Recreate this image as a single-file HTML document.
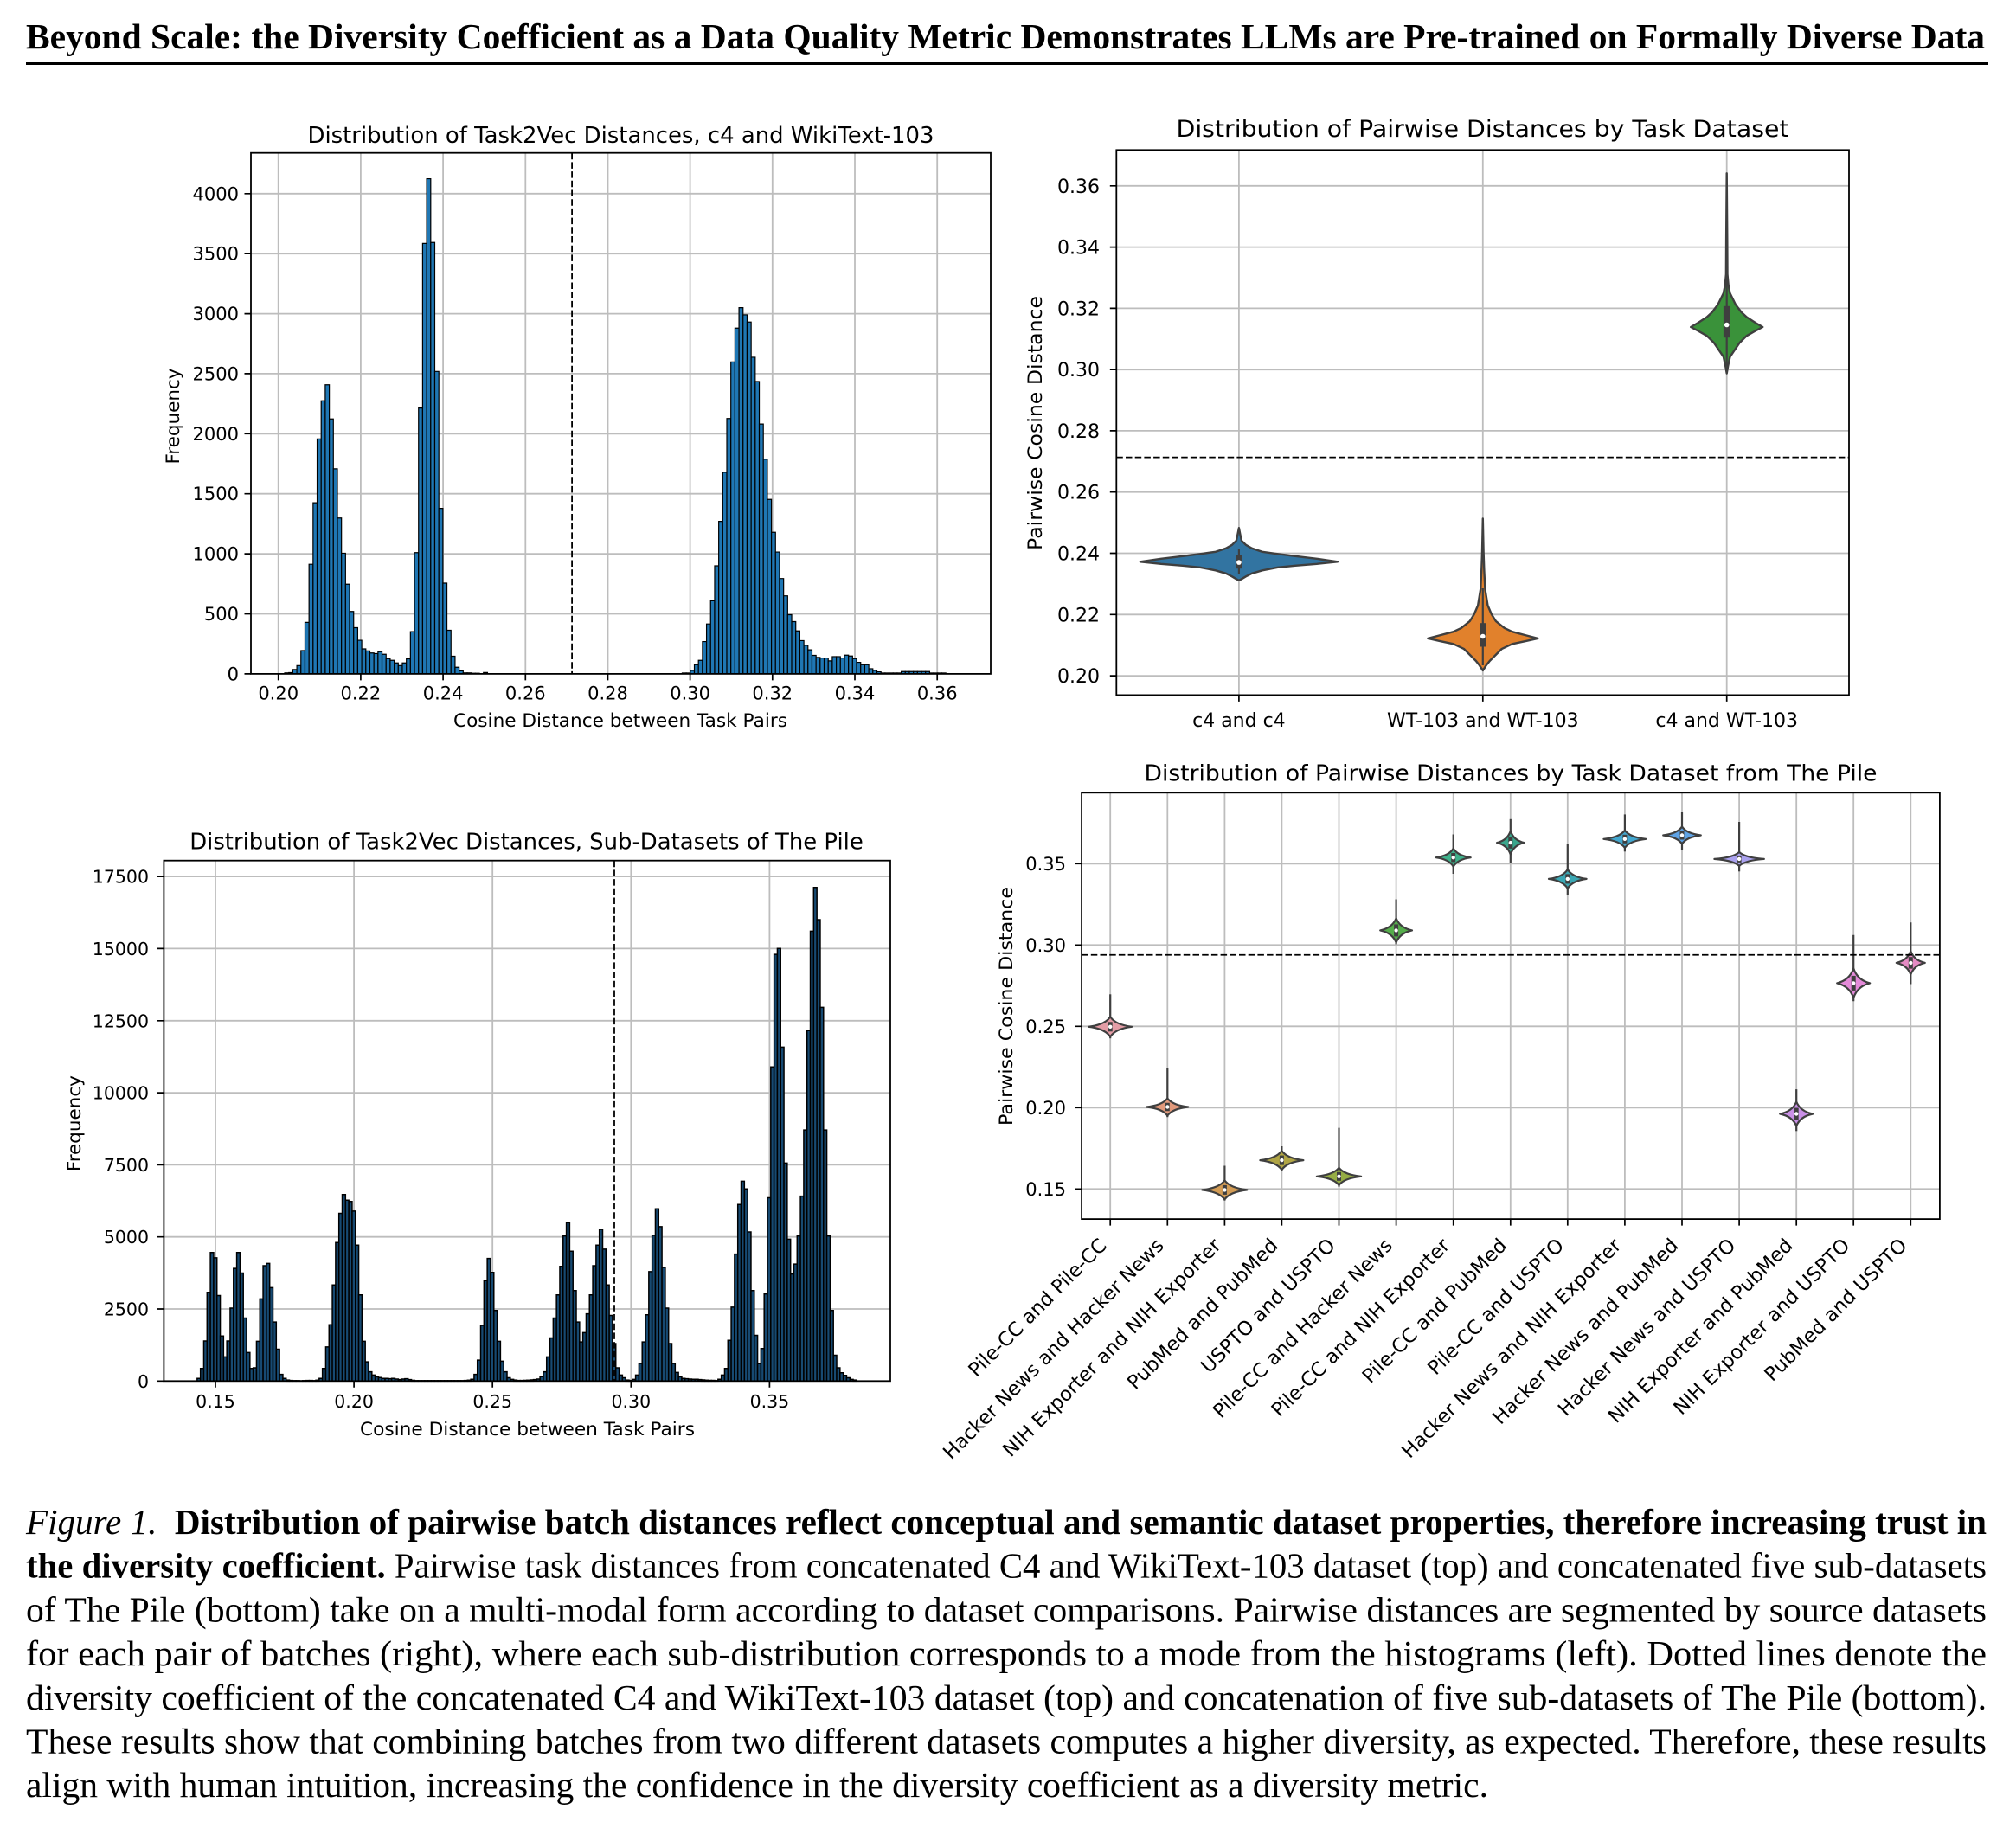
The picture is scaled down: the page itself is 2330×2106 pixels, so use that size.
<!DOCTYPE html>
<html>
<head>
<meta charset="utf-8">
<style>
html,body{margin:0;padding:0;background:#fff}
body{width:2330px;height:2106px;overflow:hidden;position:relative}
svg{position:absolute;left:0;top:0}
svg text{font-family:"DejaVu Sans",sans-serif;fill:#000}
svg text.cap{font-family:"Liberation Serif","Times New Roman",serif;font-size:41.5px}
.gr{stroke:#bdbdbd;stroke-width:1.8;fill:none}
.sp{fill:none;stroke:#000;stroke-width:1.8}
.tk{stroke:#000;stroke-width:1.7;fill:none}
.h rect{fill:#1f77b4;stroke:#000;stroke-width:1.2;vector-effect:non-scaling-stroke}
.h2 rect{fill:#174a72;stroke:#000;stroke-width:1.5;vector-effect:non-scaling-stroke}
.vb{stroke:#3f3f3f;stroke-width:2.2;vector-effect:non-scaling-stroke;stroke-linejoin:round}
.vt{stroke:#3f3f3f;stroke-width:2.2}
.vl{stroke:#3f3f3f;stroke-width:2.4;stroke-linejoin:round}
.ds{stroke:#000;stroke-width:1.8;stroke-dasharray:7.5 3.2;fill:none}
</style>
</head>
<body>
<svg width="2330" height="2106" viewBox="0 0 2330 2106" xmlns="http://www.w3.org/2000/svg">
<!-- Header -->
<text x="30" y="56" style="font-family:'Liberation Serif','Times New Roman',serif;font-weight:bold;font-size:41.5px" textLength="2264" lengthAdjust="spacingAndGlyphs">Beyond Scale: the Diversity Coefficient as a Data Quality Metric Demonstrates LLMs are Pre-trained on Formally Diverse Data</text>
<rect x="30" y="72" width="2268" height="3" fill="#000"/>

<!-- ================= TOP-LEFT HISTOGRAM ================= -->
<path class="gr" d="M321.7 176.7V778.9M416.9 176.7V778.9M512.1 176.7V778.9M607.3 176.7V778.9M702.5 176.7V778.9M797.6 176.7V778.9M892.8 176.7V778.9M988 176.7V778.9M1083.2 176.7V778.9M290 709.5H1145M290 640.1H1145M290 570.7H1145M290 501.3H1145M290 431.9H1145M290 362.6H1145M290 293.2H1145M290 223.8H1145"/>
<g class="h" transform="translate(329.03,778.9) scale(4.688,-0.13878)">
<rect x="0" width="1" height="8"/><rect x="1" width="1" height="10"/><rect x="2" width="1" height="36"/><rect x="3" width="1" height="69"/><rect x="4" width="1" height="194"/><rect x="5" width="1" height="429"/><rect x="6" width="1" height="913"/><rect x="7" width="1" height="1425"/><rect x="8" width="1" height="1957"/><rect x="9" width="1" height="2275"/><rect x="10" width="1" height="2408"/><rect x="11" width="1" height="2123"/><rect x="12" width="1" height="1708"/><rect x="13" width="1" height="1298"/><rect x="14" width="1" height="1005"/><rect x="15" width="1" height="747"/><rect x="16" width="1" height="520"/><rect x="17" width="1" height="385"/><rect x="18" width="1" height="280"/><rect x="19" width="1" height="208"/><rect x="20" width="1" height="191"/><rect x="21" width="1" height="174"/><rect x="22" width="1" height="169"/><rect x="23" width="1" height="185"/><rect x="24" width="1" height="163"/><rect x="25" width="1" height="127"/><rect x="26" width="1" height="113"/><rect x="27" width="1" height="91"/><rect x="28" width="1" height="69"/><rect x="29" width="1" height="91"/><rect x="30" width="1" height="125"/><rect x="31" width="1" height="352"/><rect x="32" width="1" height="1010"/><rect x="33" width="1" height="2214"/><rect x="34" width="1" height="3585"/><rect x="35" width="1" height="4124"/><rect x="36" width="1" height="3593"/><rect x="37" width="1" height="2519"/><rect x="38" width="1" height="1378"/><rect x="39" width="1" height="756"/><rect x="40" width="1" height="363"/><rect x="41" width="1" height="147"/><rect x="42" width="1" height="55"/><rect x="43" width="1" height="25"/><rect x="44" width="1" height="8"/><rect x="45" width="1" height="8"/><rect x="46" width="1" height="5"/><rect x="47" width="1" height="5"/><rect x="49" width="1" height="11"/>
<rect x="98" width="1" height="7"/><rect x="99" width="1" height="7"/><rect x="100" width="1" height="29"/><rect x="101" width="1" height="77"/><rect x="102" width="1" height="113"/><rect x="103" width="1" height="269"/><rect x="104" width="1" height="416"/><rect x="105" width="1" height="609"/><rect x="106" width="1" height="900"/><rect x="107" width="1" height="1270"/><rect x="108" width="1" height="1679"/><rect x="109" width="1" height="2127"/><rect x="110" width="1" height="2598"/><rect x="111" width="1" height="2880"/><rect x="112" width="1" height="3050"/><rect x="113" width="1" height="2990"/><rect x="114" width="1" height="2930"/><rect x="115" width="1" height="2637"/><rect x="116" width="1" height="2435"/><rect x="117" width="1" height="2081"/><rect x="118" width="1" height="1788"/><rect x="119" width="1" height="1453"/><rect x="120" width="1" height="1179"/><rect x="121" width="1" height="1015"/><rect x="122" width="1" height="794"/><rect x="123" width="1" height="650"/><rect x="124" width="1" height="493"/><rect x="125" width="1" height="435"/><rect x="126" width="1" height="358"/><rect x="127" width="1" height="277"/><rect x="128" width="1" height="238"/><rect x="129" width="1" height="200"/><rect x="130" width="1" height="154"/><rect x="131" width="1" height="137"/><rect x="132" width="1" height="132"/><rect x="133" width="1" height="132"/><rect x="134" width="1" height="108"/><rect x="135" width="1" height="144"/><rect x="136" width="1" height="144"/><rect x="137" width="1" height="132"/><rect x="138" width="1" height="156"/><rect x="139" width="1" height="149"/><rect x="140" width="1" height="127"/><rect x="141" width="1" height="96"/><rect x="142" width="1" height="77"/><rect x="143" width="1" height="77"/><rect x="144" width="1" height="43"/><rect x="145" width="1" height="29"/><rect x="146" width="1" height="17"/><rect x="147" width="1" height="7"/><rect x="148" width="1" height="7"/><rect x="149" width="1" height="7"/><rect x="150" width="1" height="7"/><rect x="151" width="1" height="7"/><rect x="152" width="1" height="19"/><rect x="153" width="1" height="19"/><rect x="154" width="1" height="19"/><rect x="155" width="1" height="19"/><rect x="156" width="1" height="19"/><rect x="157" width="1" height="19"/><rect x="158" width="1" height="19"/><rect x="159" width="1" height="7"/><rect x="160" width="1" height="7"/><rect x="161" width="1" height="7"/><rect x="162" width="1" height="7"/>
</g>
<line class="ds" x1="661.1" y1="176.7" x2="661.1" y2="778.9"/>
<rect class="sp" x="290" y="176.7" width="855" height="602.2"/>
<path class="tk" d="M321.7 778.9v7.5M416.9 778.9v7.5M512.1 778.9v7.5M607.3 778.9v7.5M702.5 778.9v7.5M797.6 778.9v7.5M892.8 778.9v7.5M988 778.9v7.5M1083.2 778.9v7.5M282.5 778.9h7.5M282.5 709.5h7.5M282.5 640.1h7.5M282.5 570.7h7.5M282.5 501.3h7.5M282.5 431.9h7.5M282.5 362.6h7.5M282.5 293.2h7.5M282.5 223.8h7.5"/>
<g style="font-size:21px" text-anchor="middle">
<text x="321.7" y="808.6">0.20</text><text x="416.9" y="808.6">0.22</text><text x="512.1" y="808.6">0.24</text><text x="607.3" y="808.6">0.26</text><text x="702.5" y="808.6">0.28</text><text x="797.6" y="808.6">0.30</text><text x="892.8" y="808.6">0.32</text><text x="988" y="808.6">0.34</text><text x="1083.2" y="808.6">0.36</text>
</g>
<g style="font-size:21px" text-anchor="end">
<text x="276" y="786.4">0</text><text x="276" y="717">500</text><text x="276" y="647.6">1000</text><text x="276" y="578.2">1500</text><text x="276" y="508.8">2000</text><text x="276" y="439.4">2500</text><text x="276" y="370.1">3000</text><text x="276" y="300.7">3500</text><text x="276" y="231.3">4000</text>
</g>
<text x="717.5" y="165" text-anchor="middle" style="font-size:26px" textLength="724" lengthAdjust="spacingAndGlyphs">Distribution of Task2Vec Distances, c4 and WikiText-103</text>
<text x="717" y="840" text-anchor="middle" style="font-size:21px" textLength="386" lengthAdjust="spacingAndGlyphs">Cosine Distance between Task Pairs</text>
<text transform="translate(207,481) rotate(-90)" text-anchor="middle" style="font-size:21px" textLength="111" lengthAdjust="spacingAndGlyphs">Frequency</text>

<!-- ================= TOP-RIGHT VIOLIN ================= -->
<path class="gr" d="M1431.9 173.3V803.4M1713.8 173.3V803.4M1995.7 173.3V803.4M1290.3 781.1H2137M1290.3 710.3H2137M1290.3 639.5H2137M1290.3 568.7H2137M1290.3 497.9H2137M1290.3 427.2H2137M1290.3 356.4H2137M1290.3 285.6H2137M1290.3 214.8H2137"/>
<path class="vl" fill="#3274a1" d="M1431.9,610.2 L1433.4,617.8 L1434.9,624.8 L1439.9,629.8 L1446.9,633.8 L1458.9,637.8 L1476.9,640.3 L1496.9,642.8 L1521.9,645.8 L1545.9,649.3 L1521.9,651.8 L1496.9,653.8 L1476.9,655.8 L1458.9,659.3 L1446.9,662.8 L1439.9,666.3 L1434.9,669.3 L1431.9,670.8 L1428.9,669.3 L1423.9,666.3 L1416.9,662.8 L1404.9,659.3 L1386.9,655.8 L1366.9,653.8 L1341.9,651.8 L1317.9,649.3 L1341.9,645.8 L1366.9,642.8 L1386.9,640.3 L1404.9,637.8 L1416.9,633.8 L1423.9,629.8 L1428.9,624.8 L1430.4,617.8 Z"/>
<line class="vt" x1="1431.9" y1="634" x2="1431.9" y2="664"/>
<rect x="1428.1" y="641.3" width="7.6" height="15.9" fill="#3f3f3f"/>
<circle cx="1431.9" cy="650.1" r="2.8" fill="#fff"/>
<path class="vl" fill="#e1812c" d="M1713.8,599.5 L1714.6,637.9 L1715.3,657.9 L1716.4,680.9 L1719.5,699.9 L1723.8,709.9 L1728.8,717.9 L1738.8,725.9 L1747.8,730.2 L1763.8,734.4 L1777.3,737.9 L1763.8,740.9 L1747.8,744.3 L1735.8,749.9 L1728.8,756.9 L1721.8,763.9 L1717.8,768.9 L1713.8,774.9 L1709.8,768.9 L1705.8,763.9 L1698.8,756.9 L1691.8,749.9 L1679.8,744.3 L1663.8,740.9 L1650.3,737.9 L1663.8,734.4 L1679.8,730.2 L1688.8,725.9 L1698.8,717.9 L1703.8,709.9 L1708.1,699.9 L1711.2,680.9 L1712.3,657.9 L1713.0,637.9 Z"/>
<line class="vt" x1="1713.8" y1="680" x2="1713.8" y2="769"/>
<rect x="1710" y="720.2" width="7.6" height="27.3" fill="#3f3f3f"/>
<circle cx="1713.8" cy="735.5" r="2.8" fill="#fff"/>
<path class="vl" fill="#3a923a" d="M1995.7,200.3 L1996.3,278 L1996.5,317 L1997.7,330 L1999.5,339 L2005.9,352 L2012.7,361 L2018.7,366.5 L2028.7,373 L2037.2,378 L2028.7,382.5 L2018.7,388.2 L2010.7,396 L2005.9,403 L1999.5,412.4 L1997.2,423 L1995.7,431.6 L1994.2,423 L1991.9,412.4 L1985.5,403 L1980.7,396 L1972.7,388.2 L1962.7,382.5 L1954.2,378 L1962.7,373 L1972.7,366.5 L1978.7,361 L1985.5,352 L1991.9,339 L1993.7,330 L1994.9,317 L1995.1,278 Z"/>
<line class="vt" x1="1995.7" y1="313.9" x2="1995.7" y2="423.6"/>
<rect x="1991.9" y="353.8" width="7.6" height="36.4" fill="#3f3f3f"/>
<circle cx="1995.7" cy="375.5" r="2.8" fill="#fff"/>
<line class="ds" x1="1290.3" y1="528.6" x2="2137" y2="528.6"/>
<rect class="sp" x="1290.3" y="173.3" width="846.7" height="630.1"/>
<path class="tk" d="M1431.9 803.4v7.5M1713.8 803.4v7.5M1995.7 803.4v7.5M1282.8 781.1h7.5M1282.8 710.3h7.5M1282.8 639.5h7.5M1282.8 568.7h7.5M1282.8 497.9h7.5M1282.8 427.2h7.5M1282.8 356.4h7.5M1282.8 285.6h7.5M1282.8 214.8h7.5"/>
<g style="font-size:22px" text-anchor="end">
<text x="1271" y="789.1">0.20</text><text x="1271" y="718.3">0.22</text><text x="1271" y="647.5">0.24</text><text x="1271" y="576.7">0.26</text><text x="1271" y="505.9">0.28</text><text x="1271" y="435.2">0.30</text><text x="1271" y="364.4">0.32</text><text x="1271" y="293.6">0.34</text><text x="1271" y="222.8">0.36</text>
</g>
<g style="font-size:22px" text-anchor="middle">
<text x="1431.9" y="840">c4 and c4</text><text x="1713.8" y="840">WT-103 and WT-103</text><text x="1995.7" y="840">c4 and WT-103</text>
</g>
<text x="1713.5" y="158" text-anchor="middle" style="font-size:27px" textLength="708" lengthAdjust="spacingAndGlyphs">Distribution of Pairwise Distances by Task Dataset</text>
<text transform="translate(1204,489) rotate(-90)" text-anchor="middle" style="font-size:22px" textLength="294" lengthAdjust="spacingAndGlyphs">Pairwise Cosine Distance</text>

<!-- ================= BOTTOM-LEFT HISTOGRAM ================= -->
<path class="gr" d="M249 994.7V1596.3M409.1 994.7V1596.3M569.2 994.7V1596.3M729.3 994.7V1596.3M889.4 994.7V1596.3M189.4 1513H1029M189.4 1429.7H1029M189.4 1346.4H1029M189.4 1263.1H1029M189.4 1179.8H1029M189.4 1096.4H1029M189.4 1013.1H1029"/>
<g class="h2" transform="translate(227.87,1596.3) scale(3.81,-0.033324)">
<rect x="0" width="1" height="92"/><rect x="1" width="1" height="437"/><rect x="2" width="1" height="1390"/><rect x="3" width="1" height="3079"/><rect x="4" width="1" height="4458"/><rect x="5" width="1" height="4274"/><rect x="6" width="1" height="2964"/><rect x="7" width="1" height="1563"/><rect x="8" width="1" height="839"/><rect x="9" width="1" height="1390"/><rect x="10" width="1" height="2528"/><rect x="11" width="1" height="3907"/><rect x="12" width="1" height="4458"/><rect x="13" width="1" height="3746"/><rect x="14" width="1" height="2183"/><rect x="15" width="1" height="988"/><rect x="16" width="1" height="437"/><rect x="17" width="1" height="460"/><rect x="18" width="1" height="1379"/><rect x="19" width="1" height="2850"/><rect x="20" width="1" height="3999"/><rect x="21" width="1" height="4079"/><rect x="22" width="1" height="3240"/><rect x="23" width="1" height="2045"/><rect x="24" width="1" height="1103"/><rect x="25" width="1" height="230"/><rect x="26" width="1" height="92"/><rect x="27" width="1" height="34"/><rect x="28" width="1" height="20"/><rect x="29" width="1" height="15"/><rect x="30" width="1" height="15"/><rect x="31" width="1" height="10"/><rect x="32" width="1" height="15"/><rect x="33" width="1" height="20"/><rect x="34" width="1" height="20"/><rect x="35" width="1" height="15"/><rect x="36" width="1" height="30"/><rect x="37" width="1" height="92"/><rect x="38" width="1" height="437"/><rect x="39" width="1" height="1183"/><rect x="40" width="1" height="1953"/><rect x="41" width="1" height="3332"/><rect x="42" width="1" height="4803"/><rect x="43" width="1" height="5814"/><rect x="44" width="1" height="6469"/><rect x="45" width="1" height="6274"/><rect x="46" width="1" height="6228"/><rect x="47" width="1" height="5894"/><rect x="48" width="1" height="4711"/><rect x="49" width="1" height="2987"/><rect x="50" width="1" height="1379"/><rect x="51" width="1" height="666"/><rect x="52" width="1" height="322"/><rect x="53" width="1" height="207"/><rect x="54" width="1" height="149"/><rect x="55" width="1" height="120"/><rect x="56" width="1" height="90"/><rect x="57" width="1" height="92"/><rect x="58" width="1" height="80"/><rect x="59" width="1" height="92"/><rect x="60" width="1" height="69"/><rect x="61" width="1" height="50"/><rect x="62" width="1" height="69"/><rect x="63" width="1" height="80"/><rect x="64" width="1" height="50"/><rect x="65" width="1" height="25"/><rect x="66" width="1" height="15"/><rect x="67" width="1" height="15"/><rect x="68" width="1" height="15"/><rect x="69" width="1" height="15"/><rect x="70" width="1" height="15"/><rect x="71" width="1" height="15"/><rect x="72" width="1" height="15"/><rect x="73" width="1" height="15"/><rect x="74" width="1" height="15"/><rect x="75" width="1" height="15"/><rect x="76" width="1" height="15"/><rect x="77" width="1" height="15"/><rect x="78" width="1" height="15"/><rect x="79" width="1" height="15"/><rect x="80" width="1" height="15"/><rect x="81" width="1" height="20"/><rect x="82" width="1" height="30"/><rect x="83" width="1" height="60"/><rect x="84" width="1" height="230"/><rect x="85" width="1" height="724"/><rect x="86" width="1" height="1930"/><rect x="87" width="1" height="3481"/><rect x="88" width="1" height="4251"/><rect x="89" width="1" height="3769"/><rect x="90" width="1" height="2447"/><rect x="91" width="1" height="1379"/><rect x="92" width="1" height="689"/><rect x="93" width="1" height="322"/><rect x="94" width="1" height="115"/><rect x="95" width="1" height="57"/><rect x="96" width="1" height="34"/><rect x="97" width="1" height="20"/><rect x="98" width="1" height="20"/><rect x="99" width="1" height="25"/><rect x="100" width="1" height="30"/><rect x="101" width="1" height="40"/><rect x="102" width="1" height="50"/><rect x="103" width="1" height="69"/><rect x="104" width="1" height="150"/><rect x="105" width="1" height="322"/><rect x="106" width="1" height="839"/><rect x="107" width="1" height="1494"/><rect x="108" width="1" height="2183"/><rect x="109" width="1" height="2987"/><rect x="110" width="1" height="3976"/><rect x="111" width="1" height="5033"/><rect x="112" width="1" height="5492"/><rect x="113" width="1" height="4504"/><rect x="114" width="1" height="3137"/><rect x="115" width="1" height="2045"/><rect x="116" width="1" height="1356"/><rect x="117" width="1" height="1678"/><rect x="118" width="1" height="2332"/><rect x="119" width="1" height="2987"/><rect x="120" width="1" height="3999"/><rect x="121" width="1" height="4711"/><rect x="122" width="1" height="5262"/><rect x="123" width="1" height="4573"/><rect x="124" width="1" height="3332"/><rect x="125" width="1" height="2275"/><rect x="126" width="1" height="1298"/><rect x="127" width="1" height="460"/><rect x="128" width="1" height="207"/><rect x="129" width="1" height="115"/><rect x="130" width="1" height="34"/><rect x="131" width="1" height="20"/><rect x="132" width="1" height="57"/><rect x="133" width="1" height="207"/><rect x="134" width="1" height="609"/><rect x="135" width="1" height="1356"/><rect x="136" width="1" height="2298"/><rect x="137" width="1" height="3792"/><rect x="138" width="1" height="5056"/><rect x="139" width="1" height="5975"/><rect x="140" width="1" height="5354"/><rect x="141" width="1" height="3941"/><rect x="142" width="1" height="2528"/><rect x="143" width="1" height="1298"/><rect x="144" width="1" height="609"/><rect x="145" width="1" height="299"/><rect x="146" width="1" height="149"/><rect x="147" width="1" height="92"/><rect x="148" width="1" height="80"/><rect x="149" width="1" height="70"/><rect x="150" width="1" height="60"/><rect x="151" width="1" height="60"/><rect x="152" width="1" height="50"/><rect x="153" width="1" height="40"/><rect x="154" width="1" height="30"/><rect x="155" width="1" height="23"/><rect x="156" width="1" height="23"/><rect x="157" width="1" height="15"/><rect x="158" width="1" height="60"/><rect x="159" width="1" height="207"/><rect x="160" width="1" height="437"/><rect x="161" width="1" height="1413"/><rect x="162" width="1" height="2562"/><rect x="163" width="1" height="4401"/><rect x="164" width="1" height="6124"/><rect x="165" width="1" height="6928"/><rect x="166" width="1" height="6664"/><rect x="167" width="1" height="5171"/><rect x="168" width="1" height="3137"/><rect x="169" width="1" height="1586"/><rect x="170" width="1" height="600"/><rect x="171" width="1" height="1126"/><rect x="172" width="1" height="3022"/><rect x="173" width="1" height="6354"/><rect x="174" width="1" height="10893"/><rect x="175" width="1" height="14799"/><rect x="176" width="1" height="15006"/><rect x="177" width="1" height="11582"/><rect x="178" width="1" height="7560"/><rect x="179" width="1" height="4918"/><rect x="180" width="1" height="3711"/><rect x="181" width="1" height="4056"/><rect x="182" width="1" height="5033"/><rect x="183" width="1" height="6411"/><rect x="184" width="1" height="8709"/><rect x="185" width="1" height="12156"/><rect x="186" width="1" height="15603"/><rect x="187" width="1" height="17120"/><rect x="188" width="1" height="16005"/><rect x="189" width="1" height="12961"/><rect x="190" width="1" height="8709"/><rect x="191" width="1" height="5033"/><rect x="192" width="1" height="2447"/><rect x="193" width="1" height="896"/><rect x="194" width="1" height="460"/><rect x="195" width="1" height="287"/><rect x="196" width="1" height="195"/><rect x="197" width="1" height="115"/><rect x="198" width="1" height="57"/><rect x="199" width="1" height="34"/>
</g>
<line class="ds" x1="710" y1="994.7" x2="710" y2="1596.3"/>
<rect class="sp" x="189.4" y="994.7" width="839.6" height="601.6"/>
<path class="tk" d="M249 1596.3v7.5M409.1 1596.3v7.5M569.2 1596.3v7.5M729.3 1596.3v7.5M889.4 1596.3v7.5M181.9 1596.3h7.5M181.9 1513h7.5M181.9 1429.7h7.5M181.9 1346.4h7.5M181.9 1263.1h7.5M181.9 1179.8h7.5M181.9 1096.4h7.5M181.9 1013.1h7.5"/>
<g style="font-size:20.5px" text-anchor="middle">
<text x="249" y="1627">0.15</text><text x="409.1" y="1627">0.20</text><text x="569.2" y="1627">0.25</text><text x="729.3" y="1627">0.30</text><text x="889.4" y="1627">0.35</text>
</g>
<g style="font-size:20.5px" text-anchor="end">
<text x="172" y="1603.8">0</text><text x="172" y="1520.5">2500</text><text x="172" y="1437.2">5000</text><text x="172" y="1353.9">7500</text><text x="172" y="1270.6">10000</text><text x="172" y="1187.3">12500</text><text x="172" y="1103.9">15000</text><text x="172" y="1020.6">17500</text>
</g>
<text x="608.5" y="981.5" text-anchor="middle" style="font-size:26px" textLength="778.6" lengthAdjust="spacingAndGlyphs">Distribution of Task2Vec Distances, Sub-Datasets of The Pile</text>
<text x="609.5" y="1659" text-anchor="middle" style="font-size:21px" textLength="387" lengthAdjust="spacingAndGlyphs">Cosine Distance between Task Pairs</text>
<text transform="translate(93,1298.6) rotate(-90)" text-anchor="middle" style="font-size:21px" textLength="111" lengthAdjust="spacingAndGlyphs">Frequency</text>

<!-- ================= BOTTOM-RIGHT VIOLINS ================= -->
<path class="gr" d="M1283.2 916.3V1409.1M1349.3 916.3V1409.1M1415.4 916.3V1409.1M1481.4 916.3V1409.1M1547.5 916.3V1409.1M1613.6 916.3V1409.1M1679.7 916.3V1409.1M1745.8 916.3V1409.1M1811.8 916.3V1409.1M1877.9 916.3V1409.1M1944 916.3V1409.1M2010.1 916.3V1409.1M2076.2 916.3V1409.1M2142.2 916.3V1409.1M2208.3 916.3V1409.1M1250.1 1374.3H2241.9M1250.1 1280.3H2241.9M1250.1 1186.3H2241.9M1250.1 1092.3H2241.9M1250.1 998.3H2241.9"/>
<g>
<line class="vt" x1="1283.2" y1="1149.3" x2="1283.2" y2="1200.2"/>
<path class="vb" fill="#e49da6" transform="translate(1283.2,1186.8) scale(25,11.5)" d="M0,-1C.15,-.5 .45,-.15 1,0C.45,.15 .15,.5 0,1C-.15,.5 -.45,.15 -1,0C-.45,-.15 -.15,-.5 0,-1Z"/>
<rect x="1280.7" y="1181.3" width="5" height="11" fill="#3f3f3f"/><circle cx="1283.2" cy="1186.8" r="2.2" fill="#fff"/>

<line class="vt" x1="1349.3" y1="1235" x2="1349.3" y2="1291.2"/>
<path class="vb" fill="#e29a7c" transform="translate(1349.3,1279.5) scale(24,10)" d="M0,-1C.15,-.5 .45,-.15 1,0C.45,.15 .15,.5 0,1C-.15,.5 -.45,.15 -1,0C-.45,-.15 -.15,-.5 0,-1Z"/>
<rect x="1346.8" y="1274.75" width="5" height="9.5" fill="#3f3f3f"/><circle cx="1349.3" cy="1279.5" r="2.2" fill="#fff"/>

<line class="vt" x1="1415.4" y1="1347.5" x2="1415.4" y2="1387.7"/>
<path class="vb" fill="#d39c55" transform="translate(1415.4,1375.4) scale(26,11)" d="M0,-1C.15,-.5 .45,-.15 1,0C.45,.15 .15,.5 0,1C-.15,.5 -.45,.15 -1,0C-.45,-.15 -.15,-.5 0,-1Z"/>
<rect x="1412.9" y="1369.9" width="5" height="11" fill="#3f3f3f"/><circle cx="1415.4" cy="1375.4" r="2.2" fill="#fff"/>

<line class="vt" x1="1481.4" y1="1325" x2="1481.4" y2="1352.9"/>
<path class="vb" fill="#b0a545" transform="translate(1481.4,1341.1) scale(25,11)" d="M0,-1C.15,-.5 .45,-.15 1,0C.45,.15 .15,.5 0,1C-.15,.5 -.45,.15 -1,0C-.45,-.15 -.15,-.5 0,-1Z"/>
<rect x="1478.9" y="1335.6" width="5" height="11" fill="#3f3f3f"/><circle cx="1481.4" cy="1341.1" r="2.2" fill="#fff"/>

<line class="vt" x1="1547.5" y1="1303.6" x2="1547.5" y2="1371.6"/>
<path class="vb" fill="#96ad45" transform="translate(1547.5,1359.8) scale(25.6,10)" d="M0,-1C.15,-.5 .45,-.15 1,0C.45,.15 .15,.5 0,1C-.15,.5 -.45,.15 -1,0C-.45,-.15 -.15,-.5 0,-1Z"/>
<rect x="1545" y="1354.8" width="5" height="10" fill="#3f3f3f"/><circle cx="1547.5" cy="1359.8" r="2.2" fill="#fff"/>

<line class="vt" x1="1613.6" y1="1039.5" x2="1613.6" y2="1091.4"/>
<path class="vb" fill="#55ad4b" transform="translate(1613.6,1075.4) scale(18.4,14)" d="M0,-1C.15,-.5 .45,-.15 1,0C.45,.15 .15,.5 0,1C-.15,.5 -.45,.15 -1,0C-.45,-.15 -.15,-.5 0,-1Z"/>
<rect x="1611.1" y="1068.4" width="5" height="14" fill="#3f3f3f"/><circle cx="1613.6" cy="1075.4" r="2.2" fill="#fff"/>

<line class="vt" x1="1679.7" y1="964.5" x2="1679.7" y2="1010"/>
<path class="vb" fill="#3db18a" transform="translate(1679.7,991.2) scale(20,10.5)" d="M0,-1C.15,-.5 .45,-.15 1,0C.45,.15 .15,.5 0,1C-.15,.5 -.45,.15 -1,0C-.45,-.15 -.15,-.5 0,-1Z"/>
<rect x="1677.2" y="985.95" width="5" height="10.5" fill="#3f3f3f"/><circle cx="1679.7" cy="991.2" r="2.2" fill="#fff"/>

<line class="vt" x1="1745.8" y1="946.8" x2="1745.8" y2="997.7"/>
<path class="vb" fill="#3aa68c" transform="translate(1745.8,974.1) scale(15.7,13.5)" d="M0,-1C.15,-.5 .45,-.15 1,0C.45,.15 .15,.5 0,1C-.15,.5 -.45,.15 -1,0C-.45,-.15 -.15,-.5 0,-1Z"/>
<rect x="1743.3" y="967.35" width="5" height="13.5" fill="#3f3f3f"/><circle cx="1745.8" cy="974.1" r="2.2" fill="#fff"/>

<line class="vt" x1="1811.8" y1="975.2" x2="1811.8" y2="1034.1"/>
<path class="vb" fill="#3ba7b3" transform="translate(1811.8,1015.9) scale(21.8,11)" d="M0,-1C.15,-.5 .45,-.15 1,0C.45,.15 .15,.5 0,1C-.15,.5 -.45,.15 -1,0C-.45,-.15 -.15,-.5 0,-1Z"/>
<rect x="1809.3" y="1010.4" width="5" height="11" fill="#3f3f3f"/><circle cx="1811.8" cy="1015.9" r="2.2" fill="#fff"/>

<line class="vt" x1="1877.9" y1="941.4" x2="1877.9" y2="984.3"/>
<path class="vb" fill="#42a7cf" transform="translate(1877.9,969.8) scale(24.5,10)" d="M0,-1C.15,-.5 .45,-.15 1,0C.45,.15 .15,.5 0,1C-.15,.5 -.45,.15 -1,0C-.45,-.15 -.15,-.5 0,-1Z"/>
<rect x="1875.4" y="964.8" width="5" height="10" fill="#3f3f3f"/><circle cx="1877.9" cy="969.8" r="2.2" fill="#fff"/>

<line class="vt" x1="1944" y1="938.75" x2="1944" y2="982.1"/>
<path class="vb" fill="#5ea3e6" transform="translate(1944,965.5) scale(21.8,10)" d="M0,-1C.15,-.5 .45,-.15 1,0C.45,.15 .15,.5 0,1C-.15,.5 -.45,.15 -1,0C-.45,-.15 -.15,-.5 0,-1Z"/>
<rect x="1941.5" y="960.5" width="5" height="10" fill="#3f3f3f"/><circle cx="1944" cy="965.5" r="2.2" fill="#fff"/>

<line class="vt" x1="2010.1" y1="950" x2="2010.1" y2="1007.3"/>
<path class="vb" fill="#aaa1ee" transform="translate(2010.1,992.9) scale(28.7,8)" d="M0,-1C.15,-.5 .45,-.15 1,0C.45,.15 .15,.5 0,1C-.15,.5 -.45,.15 -1,0C-.45,-.15 -.15,-.5 0,-1Z"/>
<rect x="2007.6" y="988.9" width="5" height="8" fill="#3f3f3f"/><circle cx="2010.1" cy="992.9" r="2.2" fill="#fff"/>

<line class="vt" x1="2076.2" y1="1259.1" x2="2076.2" y2="1307.3"/>
<path class="vb" fill="#c98fe6" transform="translate(2076.2,1287.5) scale(19,14)" d="M0,-1C.15,-.5 .45,-.15 1,0C.45,.15 .15,.5 0,1C-.15,.5 -.45,.15 -1,0C-.45,-.15 -.15,-.5 0,-1Z"/>
<rect x="2073.7" y="1280.5" width="5" height="14" fill="#3f3f3f"/><circle cx="2076.2" cy="1287.5" r="2.2" fill="#fff"/>

<line class="vt" x1="2142.2" y1="1080.7" x2="2142.2" y2="1157.3"/>
<path class="vb" fill="#e48ad9" transform="translate(2142.2,1136.4) scale(19,17)" d="M0,-1C.15,-.5 .45,-.15 1,0C.45,.15 .15,.5 0,1C-.15,.5 -.45,.15 -1,0C-.45,-.15 -.15,-.5 0,-1Z"/>
<rect x="2139.7" y="1127.9" width="5" height="17" fill="#3f3f3f"/><circle cx="2142.2" cy="1136.4" r="2.2" fill="#fff"/>

<line class="vt" x1="2208.3" y1="1066.25" x2="2208.3" y2="1137.5"/>
<path class="vb" fill="#e58ac3" transform="translate(2208.3,1112.9) scale(16.5,13.5)" d="M0,-1C.15,-.5 .45,-.15 1,0C.45,.15 .15,.5 0,1C-.15,.5 -.45,.15 -1,0C-.45,-.15 -.15,-.5 0,-1Z"/>
<rect x="2205.8" y="1106.15" width="5" height="13.5" fill="#3f3f3f"/><circle cx="2208.3" cy="1112.9" r="2.2" fill="#fff"/>
</g>
<line class="ds" x1="1250.1" y1="1103.75" x2="2241.9" y2="1103.75"/>
<rect class="sp" x="1250.1" y="916.3" width="991.8" height="492.8"/>
<path class="tk" d="M1283.2 1409.1v7.5M1349.3 1409.1v7.5M1415.4 1409.1v7.5M1481.4 1409.1v7.5M1547.5 1409.1v7.5M1613.6 1409.1v7.5M1679.7 1409.1v7.5M1745.8 1409.1v7.5M1811.8 1409.1v7.5M1877.9 1409.1v7.5M1944 1409.1v7.5M2010.1 1409.1v7.5M2076.2 1409.1v7.5M2142.2 1409.1v7.5M2208.3 1409.1v7.5M1242.6 1374.3h7.5M1242.6 1280.3h7.5M1242.6 1186.3h7.5M1242.6 1092.3h7.5M1242.6 998.3h7.5"/>
<g style="font-size:21px" text-anchor="end">
<text x="1232" y="1381.8">0.15</text><text x="1232" y="1287.8">0.20</text><text x="1232" y="1193.8">0.25</text><text x="1232" y="1099.8">0.30</text><text x="1232" y="1005.8">0.35</text>
</g>
<g style="font-size:22.5px" text-anchor="end">
<text transform="translate(1280.2,1441) rotate(-45)">Pile-CC and Pile-CC</text>
<text transform="translate(1346.3,1441) rotate(-45)">Hacker News and Hacker News</text>
<text transform="translate(1412.4,1441) rotate(-45)">NIH Exporter and NIH Exporter</text>
<text transform="translate(1478.4,1441) rotate(-45)">PubMed and PubMed</text>
<text transform="translate(1544.5,1441) rotate(-45)">USPTO and USPTO</text>
<text transform="translate(1610.6,1441) rotate(-45)">Pile-CC and Hacker News</text>
<text transform="translate(1676.7,1441) rotate(-45)">Pile-CC and NIH Exporter</text>
<text transform="translate(1742.8,1441) rotate(-45)">Pile-CC and PubMed</text>
<text transform="translate(1808.8,1441) rotate(-45)">Pile-CC and USPTO</text>
<text transform="translate(1874.9,1441) rotate(-45)">Hacker News and NIH Exporter</text>
<text transform="translate(1941,1441) rotate(-45)">Hacker News and PubMed</text>
<text transform="translate(2007.1,1441) rotate(-45)">Hacker News and USPTO</text>
<text transform="translate(2073.2,1441) rotate(-45)">NIH Exporter and PubMed</text>
<text transform="translate(2139.2,1441) rotate(-45)">NIH Exporter and USPTO</text>
<text transform="translate(2205.3,1441) rotate(-45)">PubMed and USPTO</text>
</g>
<text x="1746" y="902.5" text-anchor="middle" style="font-size:26px" textLength="847" lengthAdjust="spacingAndGlyphs">Distribution of Pairwise Distances by Task Dataset from The Pile</text>
<text transform="translate(1170,1163) rotate(-90)" text-anchor="middle" style="font-size:21px" textLength="276" lengthAdjust="spacingAndGlyphs">Pairwise Cosine Distance</text>

<!-- ================= CAPTION ================= -->
<text class="cap" x="30" y="1773" textLength="2266" lengthAdjust="spacingAndGlyphs"><tspan font-style="italic">Figure 1.</tspan><tspan>&#160;&#160;</tspan><tspan font-weight="bold">Distribution of pairwise batch distances reflect conceptual and semantic dataset properties, therefore increasing trust in</tspan></text>
<text class="cap" x="30" y="1823.7" textLength="2266" lengthAdjust="spacingAndGlyphs"><tspan font-weight="bold">the diversity coefficient.</tspan> Pairwise task distances from concatenated C4 and WikiText-103 dataset (top) and concatenated five sub-datasets</text>
<text class="cap" x="30" y="1874.4" textLength="2266" lengthAdjust="spacingAndGlyphs">of The Pile (bottom) take on a multi-modal form according to dataset comparisons. Pairwise distances are segmented by source datasets</text>
<text class="cap" x="30" y="1925.1" textLength="2266" lengthAdjust="spacingAndGlyphs">for each pair of batches (right), where each sub-distribution corresponds to a mode from the histograms (left). Dotted lines denote the</text>
<text class="cap" x="30" y="1975.8" textLength="2266" lengthAdjust="spacingAndGlyphs">diversity coefficient of the concatenated C4 and WikiText-103 dataset (top) and concatenation of five sub-datasets of The Pile (bottom).</text>
<text class="cap" x="30" y="2026.5" textLength="2266" lengthAdjust="spacingAndGlyphs">These results show that combining batches from two different datasets computes a higher diversity, as expected. Therefore, these results</text>
<text class="cap" x="30" y="2077.2" textLength="1690" lengthAdjust="spacingAndGlyphs">align with human intuition, increasing the confidence in the diversity coefficient as a diversity metric.</text>
</svg>
</body>
</html>
